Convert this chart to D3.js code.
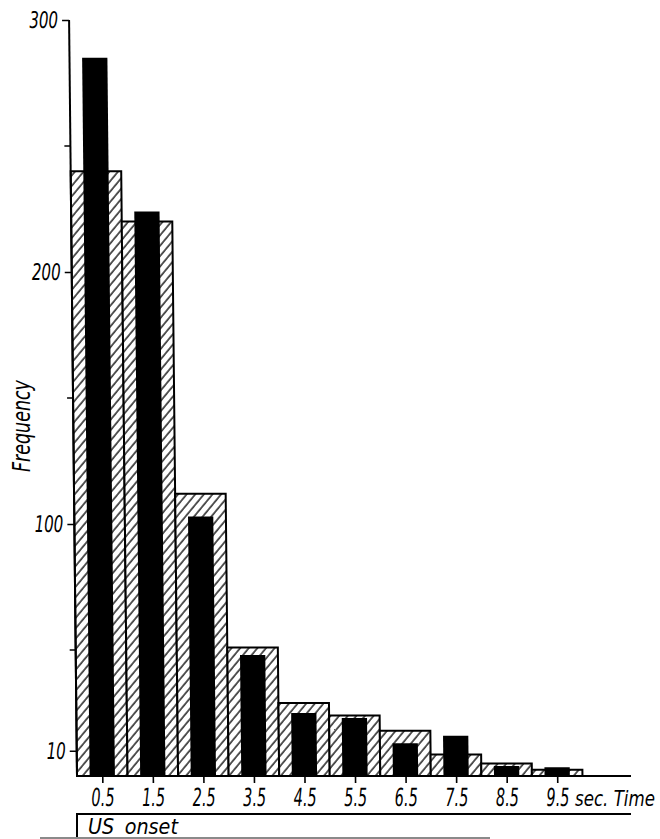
<!DOCTYPE html>
<html>
<head>
<meta charset="utf-8">
<script src="https://cdn.jsdelivr.net/npm/d3@7"></script>
<style>
  html, body { margin: 0; padding: 0; background: #fff; }
  svg { display: block; }
  text {
    font-family: "DejaVu Sans", sans-serif;
    font-style: italic;
    fill: #000;
  }
</style>
</head>
<body>
<svg id="chart" width="660" height="839"></svg>
<script>
// Response-time histogram: frequencies per 1-second bin after US onset
const binLabels   = ["0.5", "1.5", "2.5", "3.5", "4.5", "5.5", "6.5", "7.5", "8.5", "9.5"];
const binStarts   = [0, 1, 2, 3, 4, 5, 6, 7, 8, 9];
const hatchedFreq = [240, 220, 112, 51, 29, 24, 18, 8.5, 5, 2.5];
const solidFreq   = [285, 224, 103, 48, 25, 23, 13, 16, 4, 3.5];
const yTickValues = [10, 100, 200, 300];
const yMinorTicks = [50, 150, 250];
const yLabel = "Frequency";
const xUnitLabel = "sec. Time";
const onsetLabel = "US onset";

const svg = d3.select("#chart");

const x = d3.scaleLinear().domain([0, 11]).range([77, 633]);
const y = d3.scaleLinear().domain([0, 300]).range([776, 20]);
const base = y(0);

// narrow lettering: squeeze a label horizontally to the given width
function squeeze(node, width, prefix) {
  const natural = node.getComputedTextLength();
  const s = width / natural;
  const x0 = +node.getAttribute("x") || 0;
  node.setAttribute("x", 0);
  node.setAttribute("transform", `${prefix || ""} translate(${x0},0) scale(${s},1)`);
}

// diagonal hatch fill
const defs = svg.append("defs");
const pat = defs.append("pattern")
  .attr("id", "hatch")
  .attr("patternUnits", "userSpaceOnUse")
  .attr("width", 6.6)
  .attr("height", 10)
  .attr("patternTransform", "rotate(40)");
pat.append("rect").attr("width", 6.6).attr("height", 10).attr("fill", "#fff");
pat.append("line")
  .attr("x1", 1).attr("y1", 0).attr("x2", 1).attr("y2", 10)
  .attr("stroke", "#000").attr("stroke-width", 1.3);

// plot group, slightly sheared like the printed figure
const g = svg.append("g")
  .attr("transform", `translate(0,${base}) skewX(0.6) translate(0,${-base})`);

// hatched bars: full bin width
g.selectAll("rect.hatched")
  .data(binStarts)
  .join("rect")
  .attr("class", "hatched")
  .attr("x", (d) => x(d))
  .attr("width", (d) => x(d + 1) - x(d))
  .attr("y", (d, i) => y(hatchedFreq[i]))
  .attr("height", (d, i) => base - y(hatchedFreq[i]))
  .attr("fill", "url(#hatch)")
  .attr("stroke", "#000")
  .attr("stroke-width", 2);

// solid bars: half width, centred in each bin
g.selectAll("rect.solid")
  .data(binStarts)
  .join("rect")
  .attr("class", "solid")
  .attr("x", (d) => x(d + 0.25))
  .attr("width", (d) => x(d + 0.75) - x(d + 0.25))
  .attr("y", (d, i) => y(solidFreq[i]))
  .attr("height", (d, i) => base - y(solidFreq[i]))
  .attr("fill", "#000");

// y axis
const yAxis = d3.axisLeft(y)
  .tickValues(yTickValues)
  .tickSize(7)
  .tickPadding(4)
  .tickFormat(d3.format("d"));
const ya = g.append("g").attr("transform", `translate(${x(0)},0)`).call(yAxis);
ya.select(".domain").attr("d", `M0,${y(300)}V${base}`).attr("stroke-width", 2);
ya.selectAll(".tick line").attr("stroke-width", 1.6);
ya.selectAll(".tick text")
  .attr("font-size", 23)
  .attr("font-family", null)
  .each(function () { squeeze(this, this.textContent.length * 9.6); });
ya.selectAll(".minor")
  .data(yMinorTicks)
  .join("line")
  .attr("class", "minor")
  .attr("x1", -6).attr("x2", 0)
  .attr("y1", (d) => y(d)).attr("y2", (d) => y(d))
  .attr("stroke", "#000").attr("stroke-width", 1.6);

// x axis
const xAxis = d3.axisBottom(x)
  .tickValues(binStarts.map((d) => d + 0.5))
  .tickSize(7)
  .tickPadding(5)
  .tickFormat((d, i) => binLabels[i]);
const xa = g.append("g").attr("transform", `translate(0,${base})`).call(xAxis);
xa.select(".domain").attr("d", `M${x(0)},0H${x(11) - 2}`).attr("stroke-width", 2);
xa.selectAll(".tick line").attr("stroke-width", 1.6);
xa.selectAll(".tick text")
  .attr("font-size", 25)
  .attr("font-family", null)
  .each(function () { squeeze(this, 23); });

svg.append("text")
  .attr("y", 806)
  .attr("x", 575)
  .attr("font-size", 22)
  .text(xUnitLabel)
  .each(function () { squeeze(this, 80); });

svg.append("text")
  .attr("text-anchor", "middle")
  .attr("font-size", 24)
  .text(yLabel)
  .each(function () { squeeze(this, 92, "translate(30,426) rotate(-90)"); });

// US onset strip below the time axis
svg.append("path")
  .attr("d", `M${x(0)},839V814H631`)
  .attr("fill", "none")
  .attr("stroke", "#000")
  .attr("stroke-width", 2);
svg.append("line")
  .attr("x1", 40).attr("x2", 490)
  .attr("y1", 838).attr("y2", 838)
  .attr("stroke", "#8a8a8a")
  .attr("stroke-width", 2);
svg.append("text")
  .attr("x", 88)
  .attr("y", 834)
  .attr("font-size", 22)
  .attr("word-spacing", 5)
  .text(onsetLabel)
  .each(function () { squeeze(this, 90); });
</script>
</body>
</html>
